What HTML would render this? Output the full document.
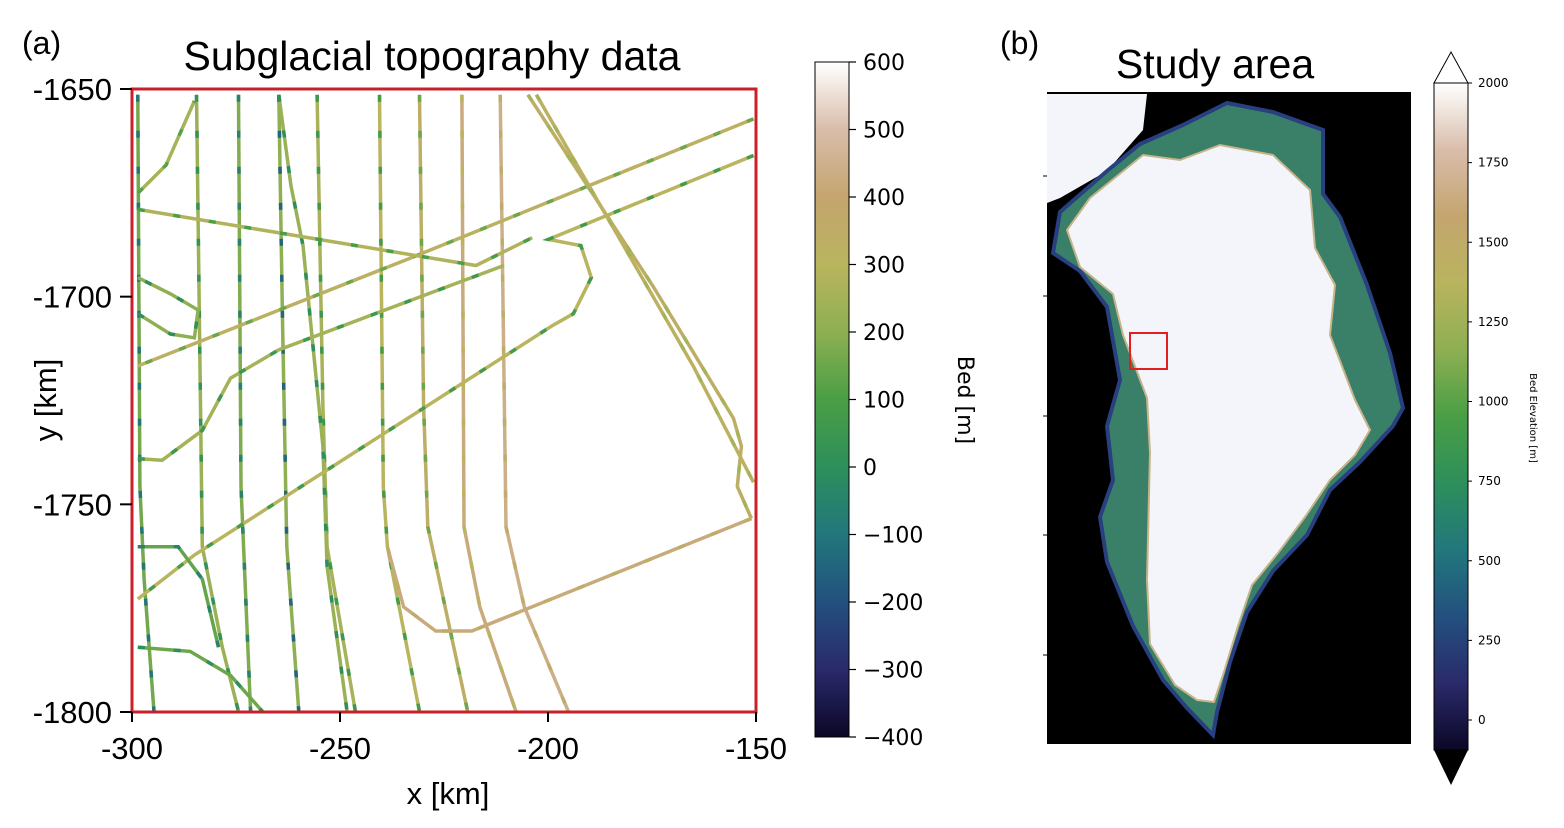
<!DOCTYPE html>
<html><head><meta charset="utf-8">
<style>
html,body{margin:0;padding:0;background:#fff;width:1564px;height:828px;overflow:hidden}
svg{display:block}
text{font-family:"Liberation Sans",sans-serif}
.dv{font-family:"DejaVu Sans","Liberation Sans",sans-serif}
</style></head>
<body>
<svg id="fig" width="1564" height="828" viewBox="0 0 1564 828" xmlns="http://www.w3.org/2000/svg">
<defs>
<linearGradient id="cmapA" x1="0" y1="1" x2="0" y2="0">
<stop offset="0" stop-color="#0b0726"/><stop offset="0.1" stop-color="#2a2a6a"/><stop offset="0.2" stop-color="#23507f"/>
<stop offset="0.3" stop-color="#22777c"/><stop offset="0.4" stop-color="#2d8f5b"/><stop offset="0.5" stop-color="#4a9e45"/>
<stop offset="0.6" stop-color="#8eaf52"/><stop offset="0.7" stop-color="#b9b45e"/><stop offset="0.8" stop-color="#c4a56f"/>
<stop offset="0.9" stop-color="#d9bdaa"/><stop offset="1" stop-color="#ffffff"/>
</linearGradient>
</defs>
<text x="22" y="54" font-size="32">(a)</text>
<text x="432" y="70" font-size="41" text-anchor="middle">Subglacial topography data</text>
<g id="tracks"></g>
<rect x="132" y="89" width="624" height="623" fill="none" stroke="#c8202a" stroke-width="3"/>
<g id="axes"></g>
<text x="448" y="804" font-size="31" text-anchor="middle">x [km]</text>
<text transform="translate(56,400) rotate(-90)" font-size="31" text-anchor="middle">y [km]</text>
<rect x="815" y="62" width="34" height="675" fill="url(#cmapA)" stroke="#000" stroke-width="1"/>
<g id="cbA"></g>
<text transform="translate(958,400) rotate(90)" font-size="22" text-anchor="middle" class="dv">Bed [m]</text>

<text x="1000" y="54" font-size="32">(b)</text>
<text x="1215" y="78" font-size="41" text-anchor="middle">Study area</text>
<rect x="1047" y="92" width="364" height="652" fill="#000"/>
<polygon points="1047,94 1147,94 1143,130 1107,171 1060,198 1047,203" fill="#f4f5fa"/>
<polygon points="1060,212 1107,171 1140,144 1183,125 1227,103 1273,112 1323,130 1323,194 1340,217 1367,285 1390,353 1403,408 1393,426 1360,462 1330,490 1307,535 1273,571 1247,612 1230,662 1217,712 1213,735 1187,708 1163,680 1133,626 1107,562 1100,517 1113,480 1107,426 1120,380 1107,307 1080,271 1053,253" fill="#3a8068" stroke="#283f80" stroke-width="4"/>
<polygon points="1067,230 1090,198 1143,155 1180,160 1220,145 1273,155 1310,190 1315,248 1335,285 1330,335 1355,400 1370,430 1355,455 1330,480 1305,517 1278,553 1252,585 1238,626 1224,672 1214,702 1197,700 1175,685 1150,644 1147,580 1150,453 1147,398 1123,335 1113,294 1080,267" fill="#f4f5fa" stroke="#c7b48a" stroke-width="2"/>
<rect x="1130" y="333" width="37" height="36" fill="none" stroke="#e02020" stroke-width="2"/>
<g stroke="#000" stroke-width="1">
<line x1="1043" y1="176" x2="1047" y2="176"/><line x1="1043" y1="296" x2="1047" y2="296"/><line x1="1043" y1="416" x2="1047" y2="416"/><line x1="1043" y1="535" x2="1047" y2="535"/><line x1="1043" y1="655" x2="1047" y2="655"/>
</g>
<polygon points="1434,83 1451,52 1468,83" fill="#fff" stroke="#000" stroke-width="1"/>
<rect x="1434" y="83" width="34" height="667" fill="url(#cmapA)" stroke="#000" stroke-width="1"/>
<polygon points="1434,750 1451,785 1468,750" fill="#000"/>
<g id="cbB"></g>
<text transform="translate(1530,418) rotate(90)" font-size="10" text-anchor="middle" class="dv">Bed Elevation [m]</text>
</svg>
<script>
const NS="http://www.w3.org/2000/svg";
const xTicks=[-300,-250,-200,-150];
const yTicks=[-1650,-1700,-1750,-1800];
const cbATicks=[600,500,400,300,200,100,0,-100,-200,-300,-400];
const cbBTicks=[2000,1750,1500,1250,1000,750,500,250,0];
// flight tracks in km
const tracks=[
[[-274.4,-1651.4],[-273.8,-1745.7],[-271.5,-1799.9]],
[[-264.7,-1651.4],[-263.8,-1707],[-262.8,-1760.2],[-259.9,-1799.9]],
[[-255.5,-1651.4],[-254.1,-1726.4],[-253.1,-1760.2],[-246.3,-1799.9]],
[[-240.5,-1651.4],[-239.6,-1745.7],[-238.6,-1760.2],[-230.9,-1799.9]],
[[-230.9,-1651.4],[-229.9,-1726.4],[-228.9,-1755.4],[-219.3,-1799.9]],
[[-220.7,-1651.4],[-220.2,-1755.4],[-216.4,-1774.7],[-207.7,-1799.9]],
[[-211.5,-1651.4],[-210.1,-1755.4],[-205.7,-1774.7],[-195.1,-1799.9]],
[[-264.7,-1651.4],[-261.8,-1673.2],[-258.9,-1687.7],[-254.1,-1736],[-253.1,-1765],[-248.3,-1799.9]],
[[-284.5,-1651.4],[-283.1,-1760.2],[-278.3,-1784.4],[-274.4,-1799.9]],
[[-298.6,-1651.4],[-298.1,-1745.7],[-297.1,-1768],[-294.7,-1799.9]],
[[-150.6,-1657.2],[-232.8,-1690.6],[-298.6,-1716.7]],
[[-150.6,-1666],[-199.9,-1686.2],[-192.1,-1687.7],[-189.6,-1695.4],[-193.9,-1704.1],[-199,-1707],[-285,-1762.2],[-298.6,-1772.8]],
[[-298.6,-1679],[-217.3,-1692.5],[-203.8,-1685.8]],
[[-298.6,-1739],[-292.8,-1739.4],[-283.1,-1732.2],[-276.3,-1719.6],[-264.7,-1712.8],[-210.6,-1692.5]],
[[-204.8,-1651.4],[-174.8,-1697.4],[-155.4,-1729.3],[-153.5,-1736],[-154.5,-1745.7],[-151.1,-1753.4]],
[[-202.8,-1651.4],[-165.1,-1716.7],[-150.6,-1744.7]],
[[-151.1,-1753.4],[-218.3,-1780.5],[-227,-1780.5],[-234.7,-1774.7],[-238.6,-1760.2]],
[[-298.6,-1675.1],[-291.8,-1668.3],[-285,-1652.9]],
[[-298.6,-1704.1],[-290.8,-1709],[-285,-1709.9],[-284.1,-1703.2],[-290.8,-1699.3],[-298.6,-1695.4]],
[[-298.6,-1760.2],[-288.9,-1760.2],[-283.1,-1768],[-279.2,-1784.4]],
[[-298.6,-1784.4],[-286,-1785.4],[-276.3,-1791.2],[-268.6,-1799.9]]
];
const trackBed=[180,200,260,300,340,420,440,230,230,160,330,300,280,250,340,320,420,260,200,140,150];
const trackLow=[-50,-150,50,80,150,300,350,0,20,-100,150,80,100,60,250,250,350,120,0,-50,0];

const px=x=>132+(x+300)*624/150;
const py=y=>89+(-1650-y)*623/150;
const stops=[[-400,[11,7,38]],[-300,[42,42,106]],[-200,[35,80,127]],[-100,[34,119,124]],[0,[45,143,91]],[100,[74,158,69]],[200,[142,175,82]],[300,[185,180,94]],[400,[196,165,111]],[500,[217,189,170]],[600,[255,255,255]]];
function cmap(v){v=Math.max(-400,Math.min(600,v));for(let i=0;i<stops.length-1;i++){const a=stops[i],b=stops[i+1];if(v<=b[0]){const t=(v-a[0])/(b[0]-a[0]);const c=a[1].map((q,k)=>Math.round(q+(b[1][k]-q)*t));return `rgb(${c})`;}}return "#fff";}

const tg=document.getElementById('tracks');
tracks.forEach((tr,i)=>{
  const d=tr.map((p,j)=>(j?'L':'M')+px(p[0]).toFixed(1)+','+py(p[1]).toFixed(1)).join(' ');
  const p=document.createElementNS(NS,'path');
  p.setAttribute('d',d);p.setAttribute('fill','none');p.setAttribute('stroke',cmap(trackBed[i]));p.setAttribute('stroke-width','3.5');
  
  
  tg.appendChild(p);
  const q=document.createElementNS(NS,'path');
  q.setAttribute('d',d);q.setAttribute('fill','none');q.setAttribute('stroke',cmap(trackLow[i]));q.setAttribute('stroke-width','3.5');q.setAttribute('stroke-dasharray','7 29');
  
  
  tg.appendChild(q);
});

const ax=document.getElementById('axes');
function mk(tag,attrs,txt){const e=document.createElementNS(NS,tag);for(const k in attrs)e.setAttribute(k,attrs[k]);if(txt!==undefined)e.textContent=txt;return e;}
xTicks.forEach(v=>{
  const l=mk('line',{x1:px(v),x2:px(v),y1:712,y2:722,stroke:'#000','stroke-width':2});
  
  
  ax.appendChild(l);
  const t=mk('text',{x:px(v),y:759,'font-size':31,'text-anchor':'middle'},String(v));
  
  
  ax.appendChild(t);
});
yTicks.forEach(v=>{
  const l=mk('line',{x1:120,x2:132,y1:py(v),y2:py(v),stroke:'#000','stroke-width':2});
  
  
  ax.appendChild(l);
  const t=mk('text',{x:112,y:py(v)+11,'font-size':31,'text-anchor':'end'},String(v));
  
  
  ax.appendChild(t);
});
const ca=document.getElementById('cbA');
cbATicks.forEach(v=>{
  const y=62+(600-v)/1000*675;
  const l=mk('line',{x1:849,x2:856,y1:y,y2:y,stroke:'#000','stroke-width':1.2});
  
  
  ca.appendChild(l);
  const t=mk('text',{x:863,y:y+8,'font-size':22,class:'dv'},String(v).replace('-','\u2212'));
  
  
  ca.appendChild(t);
});
const cb=document.getElementById('cbB');
cbBTicks.forEach(v=>{
  const y=83+(2000-v)/2000*637;
  const l=mk('line',{x1:1468,x2:1472,y1:y,y2:y,stroke:'#000','stroke-width':1});
  
  
  cb.appendChild(l);
  const t=mk('text',{x:1478,y:y+4,'font-size':12,class:'dv'},String(v));
  
  
  cb.appendChild(t);
});
</script>
</body></html>
